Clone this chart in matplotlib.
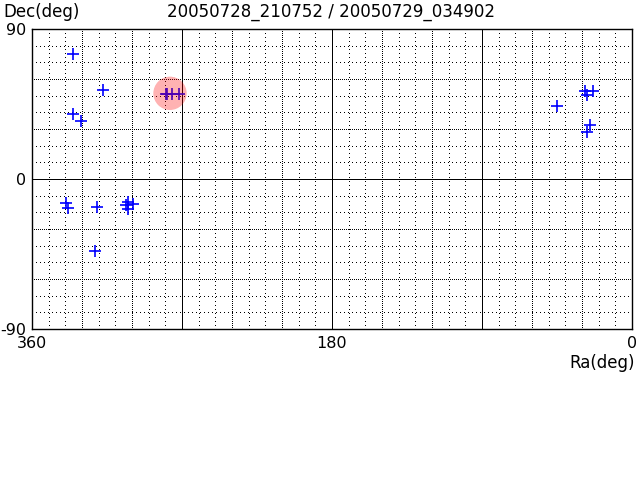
import matplotlib
matplotlib.use("Agg")
import matplotlib.pyplot as plt
from matplotlib.patches import Circle

plt.rcParams['font.family'] = ['Liberation Sans Narrow', 'DejaVu Sans']
plt.rcParams['axes.unicode_minus'] = False

title = "20050728_210752 / 20050729_034902"

# object positions (deg)
ra = [335.2, 317.2, 335.2, 330.6,
      279.6, 279.0, 276.0, 271.8,
      339.6, 338.6, 320.8, 322.2,
      302.7, 299.4, 302.1, 303.8,
      44.8, 28.2, 23.6, 26.8, 25.5, 27.0]
dec = [74.8, 53.2, 39.0, 34.8,
       50.7, 50.7, 50.7, 50.7,
       -14.6, -17.6, -16.6, -43.0,
       -13.6, -15.0, -18.0, -15.6,
       43.8, 52.6, 52.6, 50.2, 32.4, 28.4]

# highlighted region
hl_ra, hl_dec, hl_r = 277.2, 51.4, 10.0

fig = plt.figure(figsize=(6.4, 4.8), dpi=100)
ax = fig.add_axes([0.05, 0.3146, 0.9375, 0.625])
ax.set_xlim(360, 0)
ax.set_ylim(-90, 90)

# grid: sparse dots every 10, dense dots every 30, solid every 90
sparse = dict(color='black', lw=0.72, ls=(0, (1, 4)), antialiased=False, zorder=1)
dense = dict(color='black', lw=0.72, ls=(0, (1, 2)), antialiased=False, zorder=1)
solid = dict(color='black', lw=0.72, antialiased=False, zorder=1)
for v in range(10, 360, 10):
    if v % 90 == 0:
        ax.axvline(v, **solid)
    elif v % 30 == 0:
        ax.axvline(v, **dense)
    else:
        ax.axvline(v, **sparse)
for v in range(-80, 90, 10):
    if v == 0:
        ax.axhline(v, **solid)
    elif v % 30 == 0:
        ax.axhline(v, **dense)
    else:
        ax.axhline(v, **sparse)

ax.plot(ra, dec, ls='none', marker='+', color='blue', ms=8, mew=1.2, zorder=2)
ax.add_patch(Circle((hl_ra, hl_dec), hl_r, color='red', alpha=0.3, lw=0, zorder=3))

for s in ax.spines.values():
    s.set_linewidth(1.0)

ax.set_xticks([360, 180, 0])
ax.set_yticks([90, 0, -90])
ax.tick_params(length=0, labelsize=11.5)
ax.tick_params(axis='y', pad=4)
ax.tick_params(axis='x', pad=5)

fig.text(0.005, 0.975, "Dec(deg)", fontsize=12, ha='left', va='center')
fig.text(0.517, 0.975, title, fontsize=12, ha='center', va='center')
fig.text(0.992, 0.243, "Ra(deg)", fontsize=12, ha='right', va='center')

fig.savefig("out.png", dpi=100)
